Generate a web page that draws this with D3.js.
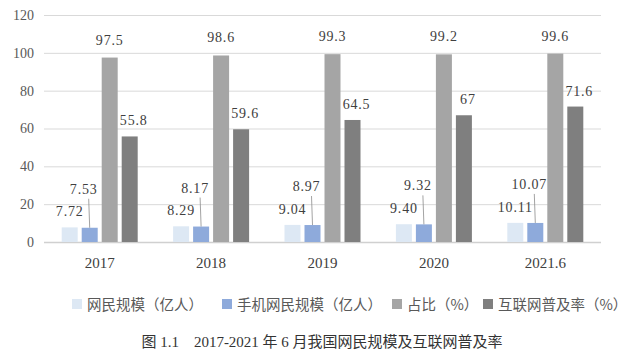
<!DOCTYPE html>
<html><head><meta charset="utf-8">
<script src="https://cdn.jsdelivr.net/npm/d3@7/dist/d3.min.js"></script>
<style>body{margin:0;background:#fff}svg{display:block}</style>
</head><body>
<svg id="c" width="642" height="360"></svg>
<script>
const categories = ["2017","2018","2019","2020","2021.6"];
const netizens = [7.72, 8.29, 9.04, 9.40, 10.11];
const mobile = [7.53, 8.17, 8.97, 9.32, 10.07];
const share = [97.5, 98.6, 99.3, 99.2, 99.6];
const penetration = [55.8, 59.6, 64.5, 67, 71.6];
const netizenLabels = ["7.72","8.29","9.04","9.40","10.11"];
const mobileLabels = ["7.53","8.17","8.97","9.32","10.07"];
const seriesNames = ["网民规模（亿人）","手机网民规模（亿人）","占比（%）","互联网普及率（%）"];
const yTicks = [0,20,40,60,80,100,120];
const caption = "图 1.1　2017-2021 年 6 月我国网民规模及互联网普及率";

const colors = ["#dde8f4","#8eaadb","#a5a5a5","#7f7f7f"];
const svg = d3.select("#c");
const serif = "'Liberation Serif','DejaVu Serif',serif";
const cjk = "'Noto Sans CJK SC','Noto Sans',sans-serif";

const x0 = d3.scaleBand().domain(categories).range([44, 601]);
const x1 = d3.scaleBand().domain(d3.range(4)).range([15.7, 95.7]).paddingInner(0.2).paddingOuter(0.1);
const y = d3.scaleLinear().domain([0,120]).range([242, 15]);

// grid
svg.append("g").selectAll("line").data(yTicks).join("line")
  .attr("x1", 44).attr("x2", 601)
  .attr("y1", d=>y(d)+0.5).attr("y2", d=>y(d)+0.5)
  .attr("stroke", d=> d===0 ? "#d0d0d0" : "#d9d9d9").attr("stroke-width", d=>d===0?1.5:1);

// y axis labels
const yAxis = d3.axisLeft(y).tickValues(yTicks).tickSize(0).tickPadding(10);
const ga = svg.append("g").attr("transform","translate(44,0)").call(yAxis);
ga.select(".domain").remove();
ga.selectAll("text").attr("font-family", serif).attr("font-size", 14).attr("fill","#595959");

// x axis labels
const xAxis = d3.axisBottom(x0).tickSize(0).tickPadding(12);
const gx = svg.append("g").attr("transform","translate(0,245)").call(xAxis);
gx.select(".domain").remove();
gx.selectAll("text").attr("font-family", serif).attr("font-size", 15).attr("fill","#404040");

const all = [netizens, mobile, share, penetration];
const data = [];
categories.forEach((c,i)=>all.forEach((s,k)=>data.push({c, i, k, v:s[i]})));

svg.append("g").selectAll("rect").data(data).join("rect")
  .attr("x", d=>x0(d.c)+x1(d.k))
  .attr("width", x1.bandwidth())
  .attr("y", d=>y(d.v))
  .attr("height", d=>y(0)-y(d.v))
  .attr("fill", d=>colors[d.k]);

const lbl = svg.append("g").attr("font-family", serif).attr("font-size", 14).attr("fill","#404040")
  .attr("text-anchor","middle").attr("letter-spacing", 0.8);
const cx = (c,k)=>x0(c)+x1(k)+x1.bandwidth()/2;

categories.forEach((c,i)=>{
  lbl.append("text").attr("x", cx(c,0)).attr("y", y(netizens[i])-11).text(netizenLabels[i]);
  const lx = cx(c,1)-6, ly = y(mobile[i])-34;
  lbl.append("text").attr("x", lx).attr("y", ly).text(mobileLabels[i]);
  svg.append("line").attr("x1", lx+5).attr("y1", ly+5).attr("x2", cx(c,1)).attr("y2", y(mobile[i]))
    .attr("stroke","#8c8c8c").attr("stroke-width",0.8);
  lbl.append("text").attr("x", cx(c,2)).attr("y", y(share[i])-13).text(share[i]);
  lbl.append("text").attr("x", cx(c,3)+4).attr("y", y(penetration[i])-11).text(penetration[i]);
});

// legend
const legX = [72, 222, 392, 483];
const lg = svg.append("g");
seriesNames.forEach((n,k)=>{
  lg.append("rect").attr("x", legX[k]).attr("y", 299).attr("width", 10).attr("height", 10).attr("fill", colors[k]);
  lg.append("text").attr("x", legX[k]+15).attr("y", 309.5).attr("font-family", cjk).attr("font-size", 14.5)
    .attr("fill","#595959").text(n);
});

svg.append("text").attr("x", 322).attr("y", 347).attr("text-anchor","middle")
  .attr("font-family", "'Liberation Serif','Noto Sans CJK SC',serif").attr("font-size", 15).attr("fill","#333")
  .text(caption);
</script>
</body></html>
